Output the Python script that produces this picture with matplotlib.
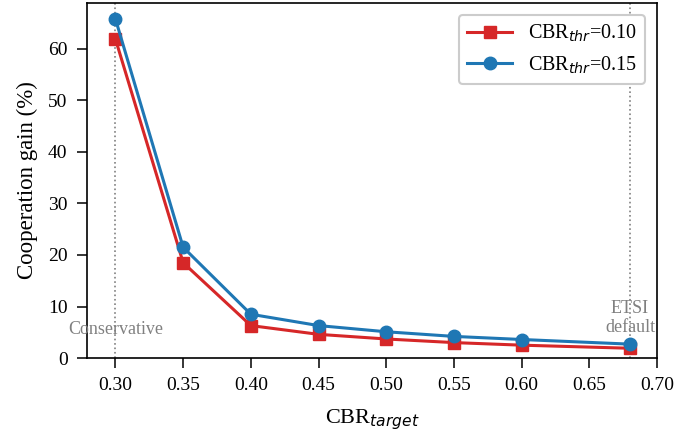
import matplotlib
matplotlib.use("Agg")
import matplotlib.pyplot as plt

plt.rcParams['font.family'] = ['Liberation Serif', 'DejaVu Serif']
plt.rcParams['mathtext.fontset'] = 'dejavusans'

# veriler
cbr_target = [0.30, 0.35, 0.40, 0.45, 0.50, 0.55, 0.60, 0.68]
gain_010 = [61.9, 18.5, 6.3, 4.6, 3.7, 3.0, 2.5, 1.9]
gain_015 = [65.8, 21.5, 8.5, 6.3, 5.1, 4.2, 3.6, 2.7]
xticks = [0.30, 0.35, 0.40, 0.45, 0.50, 0.55, 0.60, 0.65, 0.70]

fig, ax = plt.subplots(figsize=(6.99, 4.34), dpi=100)

# referans çizgileri
ax.axvline(0.30, color="gray", ls=":", lw=1.2, zorder=1)
ax.axvline(0.68, color="gray", ls=":", lw=1.2, zorder=1)

ax.plot(cbr_target, gain_010, color="#d62728", marker="s", ms=9, lw=2.2,
        label=r"CBR$_{thr}$=0.10", zorder=3)
ax.plot(cbr_target, gain_015, color="#1f77b4", marker="o", ms=9, lw=2.2,
        label=r"CBR$_{thr}$=0.15", zorder=3)

ax.text(0.30, 5.6, "Conservative", ha="center", va="center", color="gray", fontsize=13)
ax.text(0.68, 7.8, "ETSI\ndefault", ha="center", va="center", color="gray",
        fontsize=13, linespacing=1.15)

ax.set_xlim(0.279, 0.70)
ax.set_ylim(0, 68.9)
ax.set_xticks(xticks)
ax.set_xticklabels(["%.2f" % t for t in xticks])
ax.tick_params(labelsize=14, length=7, width=1.1, pad=7)
for s in ax.spines.values():
    s.set_linewidth(1.2)
ax.set_xlabel(r"CBR$_{target}$", fontsize=16, labelpad=9)
ax.set_ylabel("Cooperation gain (%)", fontsize=16.5, labelpad=7)

leg = ax.legend(loc="upper right", fontsize=14.5, framealpha=1, edgecolor="#cccccc",
                handlelength=2.2, borderaxespad=0.6)
leg.get_frame().set_linewidth(1.5)

fig.subplots_adjust(left=0.1245, right=0.94, top=0.993, bottom=0.175)
fig.savefig("out.png", dpi=100)
